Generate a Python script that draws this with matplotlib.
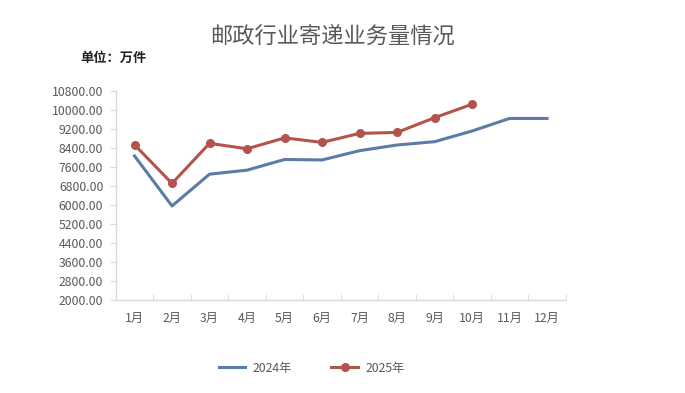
import matplotlib
matplotlib.use("Agg")
import matplotlib.pyplot as plt
import numpy as np
from matplotlib.ticker import FixedLocator, FormatStrFormatter

plt.rcParams["font.family"] = ["Noto Sans CJK SC", "DejaVu Sans"]

months = ["1月", "2月", "3月", "4月", "5月", "6月", "7月", "8月", "9月", "10月", "11月", "12月"]
vol_2024 = [8070, 5960, 7300, 7470, 7920, 7900, 8290, 8530, 8670, 9120, 9650, 9650]
vol_2025 = [8540, 6910, 8600, 8370, 8830, 8640, 9020, 9060, 9680, 10250]
yticks = np.arange(2000, 10801, 800)

BLUE = "#5a7ca6"
RED = "#b4534c"
GREY = "#595959"
AX = "#d9d9d9"

fig = plt.figure(figsize=(6.85, 3.93), dpi=100)
ax = fig.add_axes([0.169, 0.237, 0.657, 0.531])

x = np.arange(len(months))
ax.plot(x, vol_2024, color=BLUE, lw=2.2, label="2024年")
ax.plot(x[:len(vol_2025)], vol_2025, color=RED, lw=2.2, marker="o", ms=5.5,
        label="2025年")

ax.set_xlim(-0.5, len(months) - 0.5)
ax.set_ylim(2000, 10800)
ax.set_yticks(yticks)
ax.yaxis.set_major_formatter(FormatStrFormatter("%.2f"))
ax.set_xticks(x)
ax.set_xticklabels(months)
ax.xaxis.set_minor_locator(FixedLocator(np.arange(-0.5, len(months), 1)))
ax.tick_params(axis="x", which="major", length=0, pad=9, labelsize=8.8, labelcolor=GREY)
ax.tick_params(axis="x", which="minor", length=4, color=AX, direction="in")
ax.tick_params(axis="y", length=4, color=AX, labelsize=8.8, labelcolor=GREY, pad=5)
for s in ["top", "right"]:
    ax.spines[s].set_visible(False)
for s in ["left", "bottom"]:
    ax.spines[s].set_color(AX)
    ax.spines[s].set_linewidth(1.0)

fig.text(0.485, 0.905, "邮政行业寄递业务量情况", ha="center", va="center",
         fontsize=16, color=GREY)
fig.text(0.117, 0.853, "单位：万件", ha="left", va="center", fontsize=9.5,
         fontweight="bold", color="#222222")

fig.legend(loc="center", bbox_to_anchor=(0.455, 0.063), ncol=2, frameon=False,
           fontsize=8.8, labelcolor=GREY, handlelength=2.2, handletextpad=0.6,
           columnspacing=3.2)

fig.savefig("out.png", dpi=100)
